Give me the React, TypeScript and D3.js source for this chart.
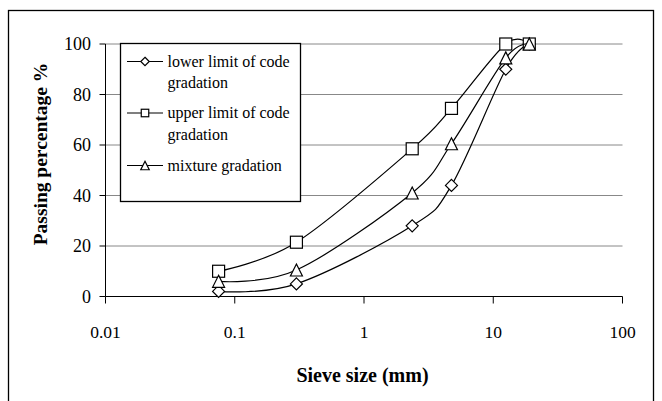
import React from "react";
import * as d3 from "d3";

const sieveSizes = [0.075, 0.3, 2.36, 4.75, 12.5, 19];
const lowerLimit = [2, 5, 28, 44, 90, 100];
const upperLimit = [10, 21.5, 58.5, 74.5, 100, 100];
const mixture = [6, 10.5, 41, 60.5, 94.5, 100];
const xTicks = [0.01, 0.1, 1, 10, 100];
const xTickLabels = ["0.01", "0.1", "1", "10", "100"];
const yTicks = [0, 20, 40, 60, 80, 100];

type Shape = "diamond" | "square" | "triangle";
const series: { name: string[]; values: number[]; shape: Shape }[] = [
  { name: ["lower limit of code", "gradation"], values: lowerLimit, shape: "diamond" },
  { name: ["upper limit of code", "gradation"], values: upperLimit, shape: "square" },
  { name: ["mixture gradation"], values: mixture, shape: "triangle" },
];

const TXT: React.CSSProperties = { fontFamily: "Liberation Serif" };

function Marker({ shape, cx, cy, s }: { shape: Shape; cx: number; cy: number; s: number }) {
  const h = s / 2;
  if (shape === "square")
    return <rect x={cx - h} y={cy - h} width={s} height={s} fill="white" stroke="black" strokeWidth={1.2} />;
  if (shape === "diamond")
    return (
      <path d={`M${cx},${cy - h}L${cx + h},${cy}L${cx},${cy + h}L${cx - h},${cy}Z`} fill="white" stroke="black" strokeWidth={1.2} />
    );
  return (
    <path d={`M${cx},${cy - h}L${cx + h},${cy + h}L${cx - h},${cy + h}Z`} fill="white" stroke="black" strokeWidth={1.2} />
  );
}

export default function App() {
  const x = d3.scaleLog().domain([0.01, 100]).range([105.5, 622.5]);
  const y = d3.scaleLinear().domain([0, 100]).range([296.5, 44]);
  const line = d3
    .line<number>()
    .x((_, i) => x(sieveSizes[i]))
    .y((v) => y(v))
    .curve(d3.curveCardinal.tension(0));

  const legendRows = [{ y: 61.5 }, { y: 113 }, { y: 165.5 }];

  return (
    <svg width={662} height={401} style={{ position: "fixed", left: 0, top: 0, background: "white" }}>
      <rect x={0} y={0} width={662} height={401} fill="white" />
      <rect x={8.5} y={10.5} width={645} height={400} fill="none" stroke="black" strokeWidth={1.3} />

      {/* gridlines */}
      {yTicks.filter((t) => t > 0).map((t) => (
        <line key={t} x1={x(0.01)} x2={x(100)} y1={y(t)} y2={y(t)} stroke="#888" strokeWidth={1} />
      ))}
      {/* axes */}
      <line x1={x(0.01)} x2={x(0.01)} y1={y(100)} y2={y(0)} stroke="black" strokeWidth={1} />
      <line x1={x(0.01)} x2={x(100)} y1={y(0)} y2={y(0)} stroke="black" strokeWidth={1.2} />
      {yTicks.map((t) => (
        <g key={t}>
          <line x1={x(0.01) - 6} x2={x(0.01)} y1={y(t)} y2={y(t)} stroke="black" />
          <text x={91} y={y(t)} dy="0.35em" textAnchor="end" fontSize={18} style={TXT}>
            {t}
          </text>
        </g>
      ))}
      {xTicks.map((t, i) => (
        <g key={t}>
          <line x1={x(t)} x2={x(t)} y1={y(0)} y2={y(0) + 7} stroke="black" />
          <text x={x(t)} y={332} dy="0.35em" textAnchor="middle" fontSize={17.5} style={TXT}>
            {xTickLabels[i]}
          </text>
        </g>
      ))}

      {/* axis titles */}
      <text x={362.5} y={375} dy="0.35em" textAnchor="middle" fontSize={20} fontWeight="bold" style={TXT}>
        Sieve size (mm)
      </text>
      <text
        transform={`translate(40,154) rotate(-90)`}
        dy="0.35em"
        textAnchor="middle"
        fontSize={19.5}
        fontWeight="bold"
        style={TXT}
      >
        Passing percentage %
      </text>

      {/* series */}
      {series.map((s) => (
        <g key={s.shape}>
          <path d={line(s.values) || ""} fill="none" stroke="black" strokeWidth={1.2} />
          {s.values.map((v, i) => (
            <Marker key={i} shape={s.shape} cx={x(sieveSizes[i])} cy={y(v)} s={12} />
          ))}
        </g>
      ))}

      {/* legend */}
      <rect x={120.5} y={43.5} width={180} height={158} fill="white" stroke="black" strokeWidth={1.3} />
      {series.map((s, k) => (
        <g key={s.shape}>
          <line x1={127} x2={163} y1={legendRows[k].y} y2={legendRows[k].y} stroke="black" strokeWidth={1.2} />
          <Marker shape={s.shape} cx={145} cy={legendRows[k].y} s={s.shape === "square" ? 7.5 : 8.5} />
          {s.name.map((ln, j) => (
            <text key={j} x={167.5} y={legendRows[k].y + j * 21.5} dy="0.32em" fontSize={16} style={TXT}>
              {ln}
            </text>
          ))}
        </g>
      ))}
    </svg>
  );
}
